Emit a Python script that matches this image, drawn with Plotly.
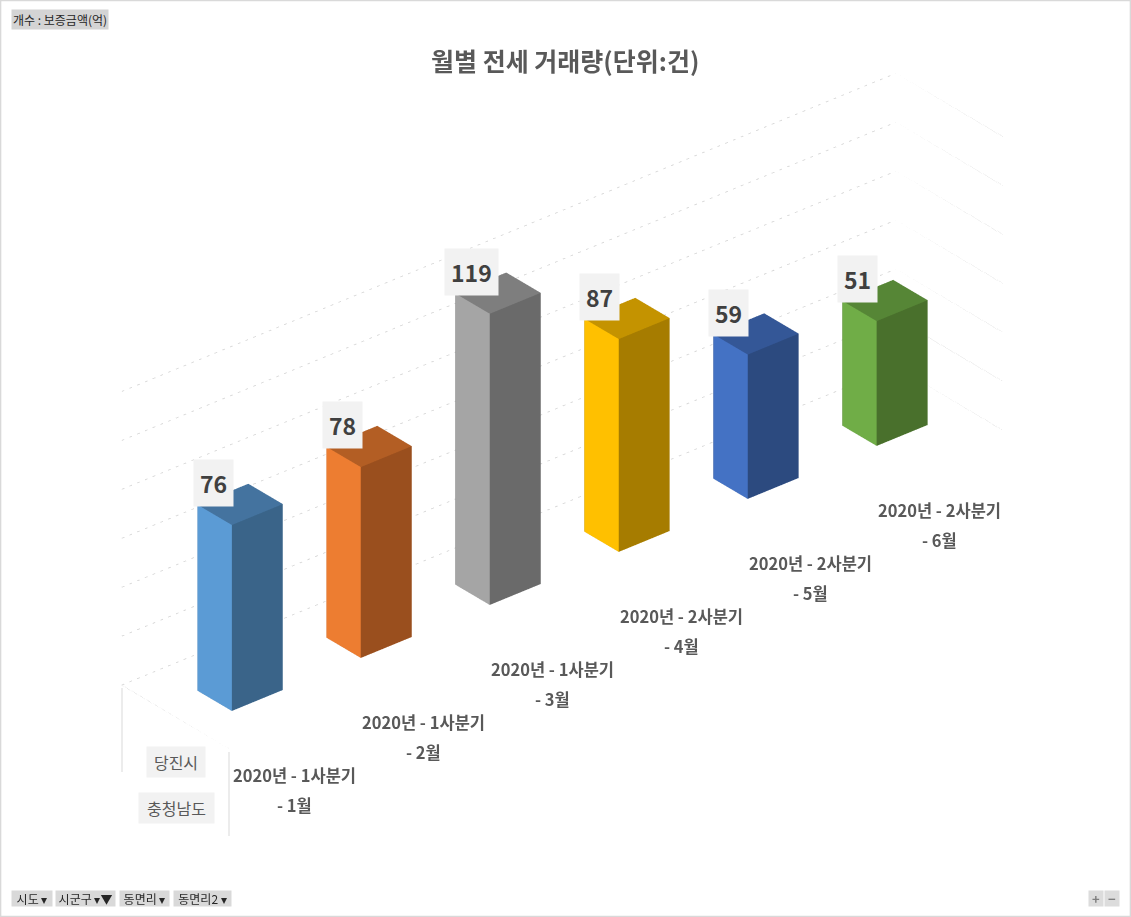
import plotly.graph_objects as go

# 데이터
months = ["2020년 - 1사분기<br>- 1월", "2020년 - 1사분기<br>- 2월", "2020년 - 1사분기<br>- 3월",
          "2020년 - 2사분기<br>- 4월", "2020년 - 2사분기<br>- 5월", "2020년 - 2사분기<br>- 6월"]
counts = [76, 78, 119, 87, 59, 51]
ticks = [0, 20, 40, 60, 80, 100, 120]
region_labels = ["당진시", "충청남도"]
filter_buttons = ["시도 ▾", "시군구 ▾▼", "동면리 ▾", "동면리2 ▾"]

# 막대 색 (밝은 면, 어두운 면, 윗면)
face_light = ["#5B9BD5", "#ED7D31", "#A5A5A5", "#FFC000", "#4472C4", "#70AD47"]
face_dark = ["#3A6489", "#9A4F1E", "#6A6A6A", "#A67C00", "#2C4A7F", "#49702C"]
face_top = ["#44739F", "#B35E24", "#7E7E7E", "#C49300", "#345797", "#568636"]

W = 0.395
Y0, Y1 = 0.34, 0.66
XMIN, XMAX = -0.5, len(counts) - 0.5
FONT = "Noto Sans CJK KR"

fig = go.Figure()

# 벽 눈금선 (점선)
grid = dict(color="#d2d2d2", width=1.5, dash="dot")
for t in ticks:
    fig.add_trace(go.Scatter3d(x=[XMIN, XMAX, XMAX], y=[1, 1, 0], z=[t, t, t],
                               mode="lines", line=grid, hoverinfo="skip", showlegend=False))
fig.add_trace(go.Scatter3d(x=[XMIN, XMIN], y=[1, 0], z=[0, 0],
                           mode="lines", line=grid, hoverinfo="skip", showlegend=False))

# 3D 막대
I = [0, 0, 4, 4, 0, 0, 3, 3, 0, 0, 1, 1]
J = [1, 2, 5, 6, 1, 5, 2, 6, 3, 7, 2, 6]
K = [2, 3, 6, 7, 5, 4, 6, 7, 7, 4, 6, 5]
for i, v in enumerate(counts):
    x0, x1 = i - W / 2, i + W / 2
    xs = [x0, x1, x1, x0, x0, x1, x1, x0]
    ys = [Y0, Y0, Y1, Y1, Y0, Y0, Y1, Y1]
    zs = [0, 0, 0, 0, v, v, v, v]
    fc = [face_top[i]] * 4 + [face_dark[i]] * 4 + [face_light[i]] * 2 + [face_dark[i]] * 2
    fig.add_trace(go.Mesh3d(x=xs, y=ys, z=zs, i=I, j=J, k=K, facecolor=fc, flatshading=True,
                            lighting=dict(ambient=1, diffuse=0, specular=0, roughness=1, fresnel=0),
                            hoverinfo="skip", showscale=False))

# 데이터 레이블과 항목 레이블
scene_ann = []
for i, v in enumerate(counts):
    scene_ann.append(dict(x=i, y=0.5, z=v, text=str(v), showarrow=False, xshift=-27, yshift=21,
                          bgcolor="#F2F2F2", borderpad=6,
                          font=dict(family=FONT, size=23, color="#404040", weight="bold")))
    top, bottom = months[i].split("<br>")
    scene_ann.append(dict(x=i, y=0, z=0, text=top, showarrow=False, xshift=1, yshift=-53,
                          font=dict(family=FONT, size=16.5, color="#595959", weight="bold")))
    scene_ann.append(dict(x=i, y=0, z=0, text=bottom, showarrow=False, xshift=1, yshift=-83,
                          font=dict(family=FONT, size=16.5, color="#595959", weight="bold")))

ax = dict(visible=False, showbackground=False, showgrid=False, zeroline=False, showspikes=False)
eye = (-0.558, -0.668, 0.492)
k = 2.5
cz = -0.119
s = 0.733


def px(x):
    return x / 1131


def py(y):
    return 1 - y / 917


ann = [
    dict(text="월별 전세 거래량(단위:건)", x=0.4996, y=py(60), xref="paper", yref="paper",
         xanchor="center", yanchor="middle", showarrow=False,
         font=dict(family=FONT, size=25, color="#595959", weight="bold")),
    dict(text="개수 : 보증금액(억)", x=px(11), y=py(9), xref="paper", yref="paper",
         xanchor="left", yanchor="top", showarrow=False, bgcolor="#d4d4d4", borderpad=1,
         font=dict(family=FONT, size=12, color="#262626")),
]
for lab, yy, w in zip(region_labels, [762, 808], [52, 69]):
    ann.append(dict(text=lab, x=px(176), y=py(yy), xref="paper", yref="paper", showarrow=False,
                    xanchor="center", yanchor="middle",
                    bgcolor="#F2F2F2", width=w, height=24, borderpad=3,
                    font=dict(family=FONT, size=16, color="#595959")))
for lab, x0, w in zip(filter_buttons, [11, 55, 119, 173], [42, 61, 51, 59]):
    ann.append(dict(text=lab, x=px(x0), y=py(890), xref="paper", yref="paper",
                    xanchor="left", yanchor="top", showarrow=False, bgcolor="#d9d9d9",
                    width=w - 2, height=15, borderpad=0,
                    font=dict(family=FONT, size=12, color="#262626")))
for lab, x0 in zip(["+", "−"], [1088, 1104]):
    ann.append(dict(text=lab, x=px(x0), y=py(890), xref="paper", yref="paper",
                    xanchor="left", yanchor="top", showarrow=False, bgcolor="#dcdcdc",
                    width=14, height=15, borderpad=0,
                    font=dict(family=FONT, size=13, color="#7f7f7f", weight="bold")))

shapes = [
    dict(type="rect", xref="paper", yref="paper", x0=0.0005, x1=0.9995, y0=0.0006, y1=0.9994,
         line=dict(color="#d9d9d9", width=1.5), layer="above"),
    dict(type="line", xref="paper", yref="paper", x0=px(122), x1=px(122), y0=py(688), y1=py(772),
         line=dict(color="#d9d9d9", width=1), layer="above"),
    dict(type="line", xref="paper", yref="paper", x0=px(229), x1=px(229), y0=py(752), y1=py(836),
         line=dict(color="#d9d9d9", width=1), layer="above"),
]

fig.update_layout(
    scene=dict(
        xaxis=dict(ax, range=[XMIN, XMAX]),
        yaxis=dict(ax, range=[0, 1]),
        zaxis=dict(ax, range=[0, 120]),
        aspectmode="manual",
        aspectratio=dict(x=3 * s, y=0.5 * s, z=1.0035 * s),
        camera=dict(eye=dict(x=eye[0] * k, y=eye[1] * k, z=cz + eye[2] * k),
                    center=dict(x=0, y=0, z=cz), up=dict(x=0, y=0, z=1),
                    projection=dict(type="orthographic")),
        domain=dict(x=[0, 0.9947], y=[0, 1]),
        annotations=scene_ann,
    ),
    annotations=ann,
    shapes=shapes,
    paper_bgcolor="white",
    width=1131,
    height=917,
    margin=dict(l=0, r=0, t=0, b=0),
    font=dict(family=FONT),
)

fig.write_html("out.html", config={"displayModeBar": False},
               post_script="document.body.style.margin='0';document.body.style.overflow='hidden';")
